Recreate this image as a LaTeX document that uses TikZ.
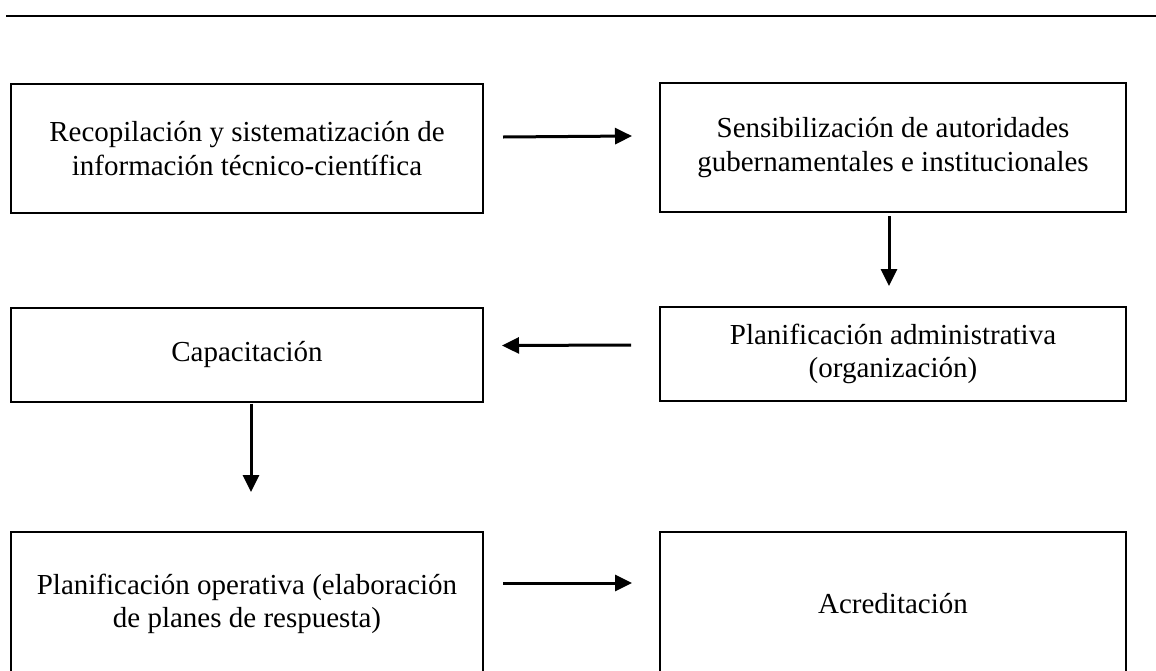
\documentclass[tikz,border=0pt]{standalone}
\usepackage{fontspec}
\setmainfont{Liberation Serif}
\usetikzlibrary{arrows.meta}

\begin{document}
\begin{tikzpicture}[x=1pt,y=-1pt,
  box/.style={draw, line width=2pt, align=center, inner sep=0pt,
    font=\fontsize{29}{33.5}\selectfont},
  arr/.style={line width=3pt, -{Triangle[length=17pt,width=16pt]}}]
\clip (0,0) rectangle (1156,670);

% Draw the rule at the top of the page
\draw[line width=2pt] (6,16) -- (1156,16);

% Draw the boxes, two per row
\node[box, minimum width=472pt, minimum height=129pt] (recop) at (247,148.5)
  {Recopilación y sistematización de\\información técnico-científica};
\node[box, minimum width=466pt, minimum height=129pt] (sensib) at (893,147.5)
  {Sensibilización de autoridades\\gubernamentales e institucionales};
\node[box, minimum width=472pt, minimum height=94pt] (capac) at (247,354.5)
  {Capacitación};
\node[box, minimum width=466pt, minimum height=94pt] (planadm) at (893,354)
  {Planificación administrativa\\(organización)};
\node[box, minimum width=472pt, minimum height=144pt] (planop) at (247,604)
  {Planificación operativa (elaboración\\de planes de respuesta)};
\node[box, minimum width=466pt, minimum height=144pt] (acred) at (893,604)
  {Acreditación};

% Draw the arrows between the boxes
\draw[arr] ([xshift=19pt,yshift=11.5pt]recop.east) -- ([xshift=-27pt,yshift=11.5pt]sensib.west);
\draw[arr] ([xshift=-4pt,yshift=-3pt]sensib.south) -- ([xshift=-4pt,yshift=20pt]planadm.north);
\draw[arr] ([xshift=-28pt,yshift=9pt]planadm.west) -- ([xshift=18pt,yshift=9pt]capac.east);
\draw[arr] ([xshift=4pt,yshift=-1pt]capac.south) -- ([xshift=4pt,yshift=39pt]planop.north);
\draw[arr] ([xshift=19pt,yshift=21pt]planop.east) -- ([xshift=-27pt,yshift=21pt]acred.west);

\end{tikzpicture}
\end{document}
